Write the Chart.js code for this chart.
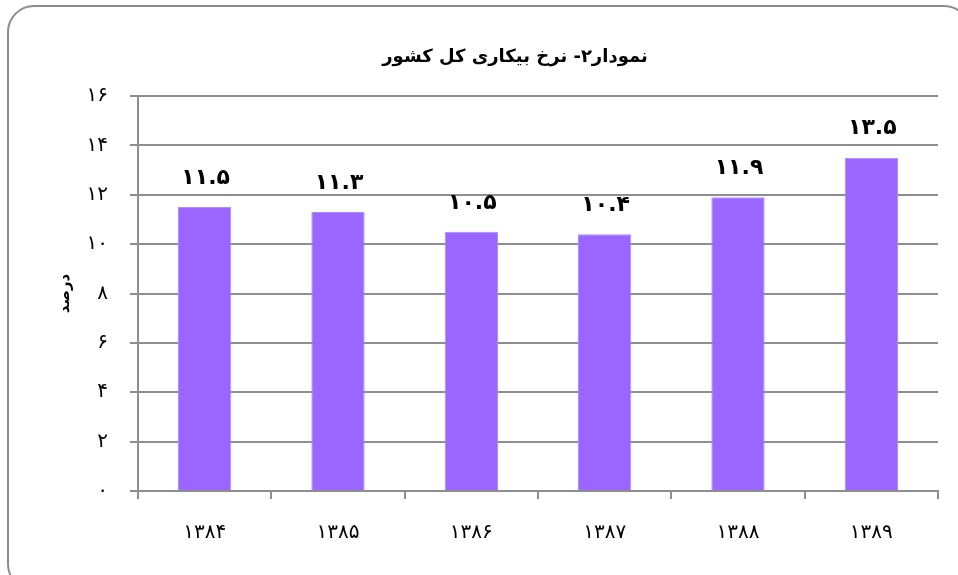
<!DOCTYPE html>
<html>
<head>
<meta charset="utf-8">
<script src="https://cdn.jsdelivr.net/npm/chart.js@4.4.0/dist/chart.umd.min.js"></script>
<style>
	html, body { margin: 0; padding: 0; background: #fff; overflow: hidden; }
	#wrap { position: absolute; left: 0; top: 0; width: 958px; height: 575px; }
	#frame { position: absolute; left: 7px; top: 5px; width: 960px; height: 582px; border: 2px solid #8c8c8c; border-radius: 27px; pointer-events: none; }
</style>
</head>
<body>
<div id="wrap"><canvas id="chart"></canvas></div>
<div id="frame"></div>
<script>
// Data
const years = [1384, 1385, 1386, 1387, 1388, 1389];
const rates = [11.5, 11.3, 10.5, 10.4, 11.9, 13.5];
const yMin = 0;
const yMax = 16;
const yStep = 2;
const chartTitle = "نمودار۲- نرخ بیکاری کل کشور";
const yTitle = "درصد";

const FONT = '"DejaVu Sans", sans-serif';
const GRID = "#8e8e8e";

// Persian digits
function toFa(n) {
	return String(n).replace(/\d/g, (d) => "۰۱۲۳۴۵۶۷۸۹"[d]);
}

// Value labels above bars + chart title
const labelPlugin = {
	id: "barLabels",
	afterDatasetsDraw(chart) {
		const ctx = chart.ctx;
		const meta = chart.getDatasetMeta(0);
		ctx.save();
		ctx.fillStyle = "#000";
		ctx.textAlign = "center";
		ctx.textBaseline = "middle";
		ctx.font = "bold 22px " + FONT;
		meta.data.forEach((bar, i) => {
			ctx.fillText(toFa(rates[i]), bar.x + 1, bar.y - 29);
		});
		const area = chart.chartArea;
		ctx.direction = "rtl";
		ctx.font = "bold 18px " + FONT;
		ctx.fillText(chartTitle, area.left + area.width / 2 - 23, 57);
		ctx.restore();
	},
};

new Chart(document.getElementById("chart"), {
	type: "bar",
	data: {
		labels: years.map(toFa),
		datasets: [
			{
				data: rates,
				backgroundColor: "#9966ff",
				borderColor: "#b08cff",
				borderWidth: 1,
				barPercentage: 0.4,
				categoryPercentage: 1.0,
			},
		],
	},
	options: {
		responsive: true,
		maintainAspectRatio: false,
		animation: false,
		layout: {
			padding: { top: 96, right: 20, left: 0, bottom: 0 },
		},
		plugins: {
			legend: { display: false },
			tooltip: { enabled: false },
		},
		scales: {
			x: {
				grid: {
					drawOnChartArea: false,
					color: GRID,
					lineWidth: 2,
					tickLength: 8,
					offset: true,
				},
				border: { color: GRID, width: 2 },
				ticks: {
					color: "#000",
					font: { family: FONT, size: 20 },
					padding: 22,
					maxRotation: 0,
				},
				afterFit: (s) => { s.height = 84; },
			},
			y: {
				min: yMin,
				max: yMax,
				ticks: {
					stepSize: yStep,
					color: "#000",
					font: { family: FONT, size: 20 },
					padding: 22,
					callback: (v) => toFa(v),
				},
				grid: { color: GRID, lineWidth: 2, tickLength: 8 },
				border: { color: GRID, width: 2 },
				title: {
					display: true,
					text: yTitle,
					color: "#000",
					font: { family: FONT, size: 15, weight: "bold" },
					padding: { top: 56, bottom: 0 },
				},
				afterFit: (s) => { s.width = 138; },
			},
		},
	},
	plugins: [labelPlugin],
});
</script>
</body>
</html>
